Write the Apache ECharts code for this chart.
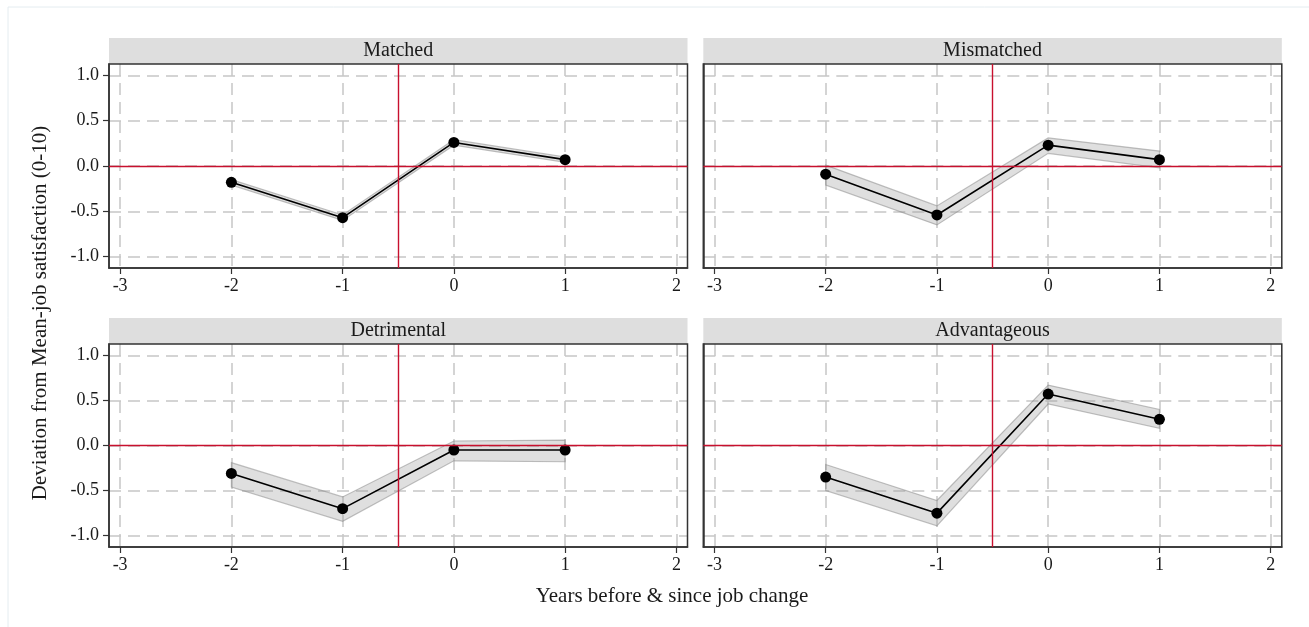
<!DOCTYPE html>
<html><head><meta charset="utf-8">
<script src="https://cdn.jsdelivr.net/npm/echarts@6/dist/echarts.min.js"></script>
<style>html,body{margin:0;padding:0;background:#fff}#c{width:1309px;height:627px}</style>
</head><body><div id="c"></div>
<script>
// ---- data ----
const years = [-2, -1, 0, 1];
const panelTitles = ['Matched', 'Mismatched', 'Detrimental', 'Advantageous'];
const matchedEst = [-0.18, -0.57, 0.26, 0.07];
const matchedLo  = [-0.21, -0.60, 0.23, 0.04];
const matchedHi  = [-0.15, -0.54, 0.29, 0.10];
const mismatchedEst = [-0.09, -0.54, 0.23, 0.07];
const mismatchedLo  = [-0.21, -0.65, 0.14, -0.02];
const mismatchedHi  = [0.01, -0.44, 0.31, 0.165];
const detrimentalEst = [-0.31, -0.70, -0.05, -0.05];
const detrimentalLo  = [-0.46, -0.84, -0.17, -0.18];
const detrimentalHi  = [-0.19, -0.57, 0.05, 0.06];
const advantageousEst = [-0.35, -0.75, 0.57, 0.29];
const advantageousLo  = [-0.50, -0.89, 0.46, 0.19];
const advantageousHi  = [-0.21, -0.61, 0.67, 0.40];
const xTicks = [-3, -2, -1, 0, 1, 2];
const yTicks = [-1.0, -0.5, 0.0, 0.5, 1.0];
const xTitle = 'Years before & since job change';
const yTitle = 'Deviation from Mean-job satisfaction (0-10)';

const panels = [
  {est: matchedEst, lo: matchedLo, hi: matchedHi},
  {est: mismatchedEst, lo: mismatchedLo, hi: mismatchedHi},
  {est: detrimentalEst, lo: detrimentalLo, hi: detrimentalHi},
  {est: advantageousEst, lo: advantageousLo, hi: advantageousHi}
];

// ---- layout ----
const FONT = '"Liberation Serif", "Times New Roman", serif';
const colLeft = [109, 703.3];
const rowTop = [64, 344];
const pW = 578.5, pH = [204, 203];
const stripH = 26;

const grids = [], xAxes = [], yAxes = [], series = [], graphics = [];

graphics.push({type: 'rect', silent: true, z: -10,
  shape: {x: 8, y: 7, width: 1400, height: 700},
  style: {fill: 'none', stroke: '#e4ecf0', lineWidth: 1}});

panels.forEach((p, i) => {
  const col = i % 2, row = Math.floor(i / 2);
  grids.push({left: colLeft[col], top: rowTop[row], width: pW, height: pH[row],
    show: true, borderColor: '#333', borderWidth: 1.5, backgroundColor: 'transparent', z: 3});
  xAxes.push({type: 'value', gridIndex: i, min: -3.1, max: 2.1, position: 'bottom',
    axisLine: {show: true, onZero: false, lineStyle: {color: '#333', width: 1.5}},
    axisTick: {show: true, customValues: xTicks, length: 6, lineStyle: {color: '#333', width: 1.2}},
    axisLabel: {show: true, customValues: xTicks, fontSize: 18, fontFamily: FONT, color: '#1a1a1a', margin: 9,
      formatter: v => String(v)},
    splitLine: {show: true, lineStyle: {color: '#c6c6c6', width: 1.5, type: [12, 7]}}
  });
  yAxes.push({type: 'value', gridIndex: i, min: -1.125, max: 1.125, position: 'left',
    axisLine: {show: true, onZero: false, lineStyle: {color: '#333', width: 1.5}},
    axisTick: {show: col === 0, customValues: yTicks, length: 6, lineStyle: {color: '#333', width: 1.2}},
    axisLabel: {show: col === 0, customValues: yTicks, fontSize: 18, fontFamily: FONT, color: '#1a1a1a', margin: 10,
      formatter: v => v.toFixed(1)},
    splitLine: {show: true, lineStyle: {color: '#c6c6c6', width: 1.5, type: [12, 7]}}
  });
  // reference lines
  series.push({type: 'line', xAxisIndex: i, yAxisIndex: i, data: [], z: 1, silent: true,
    markLine: {silent: true, symbol: ['none', 'none'], animation: false,
      lineStyle: {color: '#C8102E', width: 1.4, type: 'solid'},
      label: {show: false},
      data: [{xAxis: -0.5}, {yAxis: 0}]}
  });
  // confidence band
  series.push({type: 'custom', xAxisIndex: i, yAxisIndex: i, z: 2, silent: true,
    data: years.map((x, k) => [x, p.lo[k], p.hi[k]]),
    encode: {x: 0, y: [1, 2]},
    renderItem: (params, api) => {
      if (params.dataIndex !== 0) return null;
      const pts = [];
      years.forEach((x, k) => pts.push(api.coord([x, p.hi[k]])));
      for (let k = years.length - 1; k >= 0; k--) pts.push(api.coord([years[k], p.lo[k]]));
      return {type: 'polygon', shape: {points: pts},
        style: {fill: 'rgba(150,150,150,0.3)', stroke: 'rgba(140,140,140,0.55)', lineWidth: 1.2}};
    }
  });
  // estimate line
  series.push({type: 'line', xAxisIndex: i, yAxisIndex: i, z: 4,
    data: years.map((x, k) => [x, p.est[k]]),
    symbol: 'circle', symbolSize: 11, showSymbol: true,
    lineStyle: {color: '#000', width: 1.6},
    itemStyle: {color: '#000'}
  });
  // strip
  const sx = colLeft[col], sy = rowTop[row] - stripH;
  graphics.push({type: 'rect', silent: true, z: 0,
    shape: {x: sx, y: sy, width: pW, height: stripH},
    style: {fill: '#dedede'}});
  graphics.push({type: 'text', silent: true, z: 1,
    style: {text: panelTitles[i], x: sx + pW / 2, y: sy + stripH / 2 - 0.5,
      textAlign: 'center', textVerticalAlign: 'middle',
      font: '20px ' + FONT, fill: '#1a1a1a'}});
});

graphics.push({type: 'text', silent: true,
  style: {text: xTitle, x: 672, y: 596, textAlign: 'center', textVerticalAlign: 'middle',
    font: '21px ' + FONT, fill: '#1a1a1a'}});
graphics.push({type: 'text', silent: true, rotation: Math.PI / 2, x: 40, y: 313,
  style: {text: yTitle, x: 0, y: 0, textAlign: 'center', textVerticalAlign: 'middle',
    font: '21px ' + FONT, fill: '#1a1a1a'}});

const chart = echarts.init(document.getElementById('c'), null, {renderer: 'canvas'});
chart.setOption({
  backgroundColor: '#ffffff',
  animation: false,
  grid: grids, xAxis: xAxes, yAxis: yAxes, series: series, graphic: graphics
});
</script>
</body></html>
